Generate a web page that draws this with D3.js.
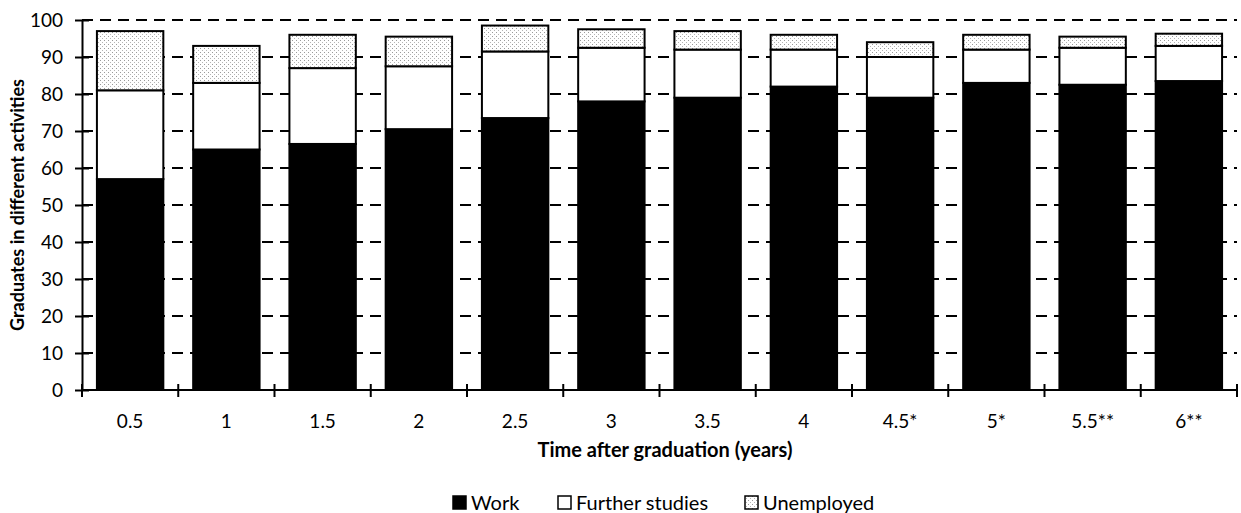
<!DOCTYPE html>
<html>
<head>
<meta charset="utf-8">
<script src="https://cdn.jsdelivr.net/npm/d3@7"></script>
<style>
  html, body { margin: 0; padding: 0; background: #fff; }
  svg { display: block; }
  text { font-family: Lato, "Open Sans", sans-serif; fill: #000; }
</style>
</head>
<body>
<svg id="chart" width="1241" height="513"></svg>
<script>
const categories = ["0.5", "1", "1.5", "2", "2.5", "3", "3.5", "4", "4.5*", "5*", "5.5**", "6**"];
const work       = [57, 65, 66.5, 70.5, 73.5, 78, 79, 82, 79, 83, 82.5, 83.5];
const further    = [24, 18, 20.5, 17, 18, 14.5, 13, 10, 11, 9, 10, 9.5];
const unemployed = [16, 10, 9, 8, 7, 5, 5, 4, 4, 4, 3, 3.3];
const yTicks = [0, 10, 20, 30, 40, 50, 60, 70, 80, 90, 100];
const seriesNames = ["Work", "Further studies", "Unemployed"];
const xTitle = "Time after graduation (years)";
const yTitle = "Graduates in different activities";

const svg = d3.select("#chart");
const defs = svg.append("defs");
const pat = defs.append("pattern").attr("id", "dots").attr("patternUnits", "userSpaceOnUse")
  .attr("width", 4).attr("height", 4);
pat.append("rect").attr("width", 4).attr("height", 4).attr("fill", "#fff");
pat.append("rect").attr("x", 0).attr("y", 0).attr("width", 1).attr("height", 1).attr("fill", "#9a9a9a");
pat.append("rect").attr("x", 2).attr("y", 2).attr("width", 1).attr("height", 1).attr("fill", "#b5b5b5");

const x0 = 82, x1 = 1237, yBase = 390, yTop = 20;
const x = d3.scaleBand().domain(categories).range([x0, x1]).paddingInner(0.31).paddingOuter(0.155);
const y = d3.scaleLinear().domain([0, 100]).range([yBase, yTop]);

const table = categories.map((c, i) => ({ cat: c, "Work": work[i], "Further studies": further[i], "Unemployed": unemployed[i] }));
const stacked = d3.stack().keys(seriesNames)(table);
const fills = { "Work": "#000", "Further studies": "#fff", "Unemployed": "url(#dots)" };

// gridlines
svg.append("g").selectAll("line").data(yTicks.filter(t => t > 0)).join("line")
  .attr("x1", x0).attr("x2", x1)
  .attr("y1", d => y(d)).attr("y2", d => y(d))
  .attr("stroke", "#000").attr("stroke-width", 2).attr("stroke-dasharray", "11,7");

// bars
svg.append("g").selectAll("g").data(stacked).join("g")
  .attr("fill", d => fills[d.key])
  .selectAll("rect").data(d => d).join("rect")
  .attr("x", d => x(d.data.cat))
  .attr("width", x.bandwidth())
  .attr("y", d => y(d[1]))
  .attr("height", d => y(d[0]) - y(d[1]))
  .attr("stroke", "#000").attr("stroke-width", 2);

// y axis
const yAxis = svg.append("g").attr("transform", `translate(${x0},0)`)
  .call(d3.axisLeft(y).tickValues(yTicks).tickSizeInner(7).tickSizeOuter(0).tickPadding(12));
yAxis.select(".domain").attr("stroke-width", 2);
yAxis.selectAll(".tick line").attr("x2", 7).attr("x1", -7).attr("stroke-width", 2);
yAxis.selectAll(".tick text").style("font-size", "19px").style("font-family", "Lato, sans-serif").attr("fill", "#000");

// x axis
const bounds = categories.map(c => x(c) - x.step() * x.paddingInner() / 2).concat([x1]);
svg.append("line").attr("x1", x0).attr("x2", x1).attr("y1", yBase).attr("y2", yBase)
  .attr("stroke", "#000").attr("stroke-width", 2);
svg.append("g").selectAll("line").data(bounds).join("line")
  .attr("x1", d => d).attr("x2", d => d)
  .attr("y1", yBase - 6).attr("y2", yBase + 7)
  .attr("stroke", "#000").attr("stroke-width", 2);
svg.append("g").selectAll("text").data(categories).join("text")
  .attr("x", d => x(d) + x.bandwidth() / 2).attr("y", 428)
  .attr("text-anchor", "middle").style("font-size", "19px").text(d => d);

// axis titles
svg.append("text").attr("x", 665).attr("y", 457).attr("text-anchor", "middle")
  .style("font-size", "20px").style("font-weight", "bold").text(xTitle);
svg.append("text").attr("transform", `translate(24,${(yBase + yTop) / 2}) rotate(-90)`)
  .attr("text-anchor", "middle").style("font-size", "18px").style("font-weight", "bold").text(yTitle);

// legend
const legendX = [453, 558, 745];
const lg = svg.append("g");
seriesNames.forEach((s, i) => {
  lg.append("rect").attr("x", legendX[i]).attr("y", 496).attr("width", 13).attr("height", 13)
    .attr("fill", fills[s]).attr("stroke", "#000").attr("stroke-width", 1.5);
  lg.append("text").attr("x", legendX[i] + 18).attr("y", 510).style("font-size", "20px").text(s);
});
</script>
</body>
</html>
